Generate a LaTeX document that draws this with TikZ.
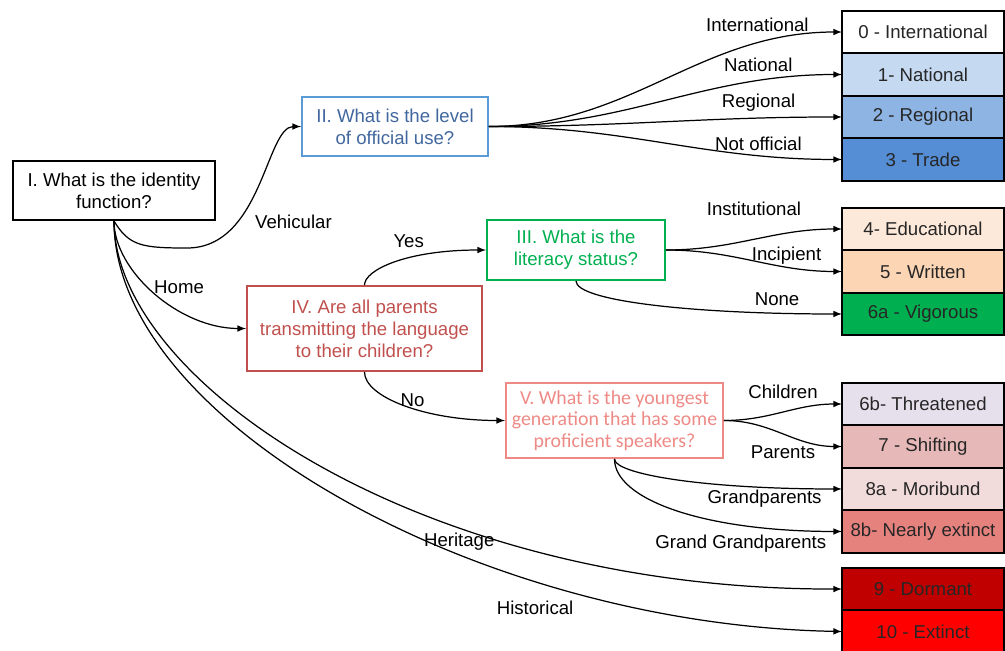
\documentclass[tikz,border=0pt]{standalone}
\usepackage{fontspec}
\setmainfont{Liberation Sans}
\newfontfamily\qfive{Carlito}
\usepackage{tikz}
\usepackage{xcolor}
\usetikzlibrary{arrows, positioning}

\definecolor{qblue}{HTML}{5B9BD5}
\definecolor{qbluetext}{HTML}{41679E}
\definecolor{qgreen}{HTML}{00B050}
\definecolor{qred}{HTML}{C0504D}
\definecolor{qpink}{HTML}{EE8A86}
\definecolor{lv1}{HTML}{C5D9F1}
\definecolor{lv2}{HTML}{8DB4E2}
\definecolor{lv3}{HTML}{558ED5}
\definecolor{lv4}{HTML}{FDE9D9}
\definecolor{lv5}{HTML}{FCD5B5}
\definecolor{lv6a}{HTML}{00B050}
\definecolor{lv6b}{HTML}{E6E0EC}
\definecolor{lv7}{HTML}{E6B9B8}
\definecolor{lv8a}{HTML}{F2DCDB}
\definecolor{lv8b}{HTML}{E6827E}
\definecolor{lv9}{HTML}{C00000}
\definecolor{lv10}{HTML}{FF0000}

\begin{document}
\begin{tikzpicture}[x=0.02cm, y=0.02cm, >=latex,
    font=\fontsize{10.6}{12.5}\selectfont,
    question/.style={draw, rectangle, line width=1.1pt, align=center, inner sep=2pt},
    level/.style={draw, rectangle, line width=1.1pt, outer sep=0pt, minimum width=3.24cm, minimum height=0.85cm, inner sep=0pt, text=black!85},
    link/.style={->, line width=0.7pt},
    fanlabel/.style={pos=0.85, above, xshift=-0.5cm}]
    \useasboundingbox (0,0) rectangle (1005,-650);

    % Questions
    \node[question, minimum width=4.04cm, minimum height=1.18cm] (q1) at (114,-190.5) {I. What is the identity\\function?};
    \node[question, draw=qblue, text=qbluetext, minimum width=3.72cm, minimum height=1.18cm] (q2) at (395,-126.5) {II. What is the level\\of official use?};
    \node[question, draw=qgreen, text=qgreen, minimum width=3.56cm, minimum height=1.2cm] (q3) at (576,-250) {III. What is the\\literacy status?};
    \node[question, draw=qred, text=qred, minimum width=4.7cm, minimum height=1.7cm] (q4) at (364.5,-328.5) {IV. Are all parents\\transmitting the language\\to their children?};
    \node[question, draw=qpink, text=qpink, minimum width=4.34cm, minimum height=1.5cm, font=\qfive\fontsize{11.3}{12.2}\selectfont] (q5) at (614.5,-420.5) {V. What is the youngest\\generation that has some\\proficient speakers?};

    % Levels
    \node[level, fill=white] (l0) at (923,-32) {0 - International};
    \node[level, fill=lv1, below=0pt of l0] (l1) {1- National};
    \node[level, fill=lv2, below=0pt of l1] (l2) {2 - Regional};
    \node[level, fill=lv3, below=0pt of l2] (l3) {3 - Trade};
    \node[level, fill=lv4] (l4) at (923,-229) {4- Educational};
    \node[level, fill=lv5, below=0pt of l4] (l5) {5 - Written};
    \node[level, fill=lv6a, below=0pt of l5] (l6a) {6a - Vigorous};
    \node[level, fill=lv6b] (l6b) at (923,-404) {6b- Threatened};
    \node[level, fill=lv7, below=0pt of l6b] (l7) {7 - Shifting};
    \node[level, fill=lv8a, below=0pt of l7] (l8a) {8a - Moribund};
    \node[level, fill=lv8b, below=0pt of l8a] (l8b) {8b- Nearly extinct};
    \node[level, fill=lv9] (l9) at (923,-589) {9 - Dormant};
    \node[level, fill=lv10, below=0pt of l9] (l10) {10 - Extinct};

    % Arrows
    \coordinate (dip) at (187,-248);
    \draw[link] (q1.south) .. controls +(15,-25) and +(-45,0) .. (dip)
        .. controls +(75,0) and +(-35,0) .. node[pos=0.3, right=6pt] {Vehicular} (q2.west);
    \draw[link] (q1.south) .. controls +(0,-50) and +(-67,0) .. node[pos=0.45, right] {Home} (q4.west);
    \draw[link] (q1.south) .. controls +(0,-160) and +(-422,-1) .. node[pos=0.66, yshift=-8pt] {Heritage} (l9.west);
    \draw[link] (q1.south) .. controls +(0,-200) and +(-362,6.5) .. node[pos=0.71, below=8pt] {Historical} (l10.west);

    \draw[link] (q2.east) to[out=0, in=180] node[fanlabel] {International} (l0.west);
    \draw[link] (q2.east) to[out=0, in=180] node[fanlabel] {National} (l1.west);
    \draw[link] (q2.east) to[out=0, in=180] node[fanlabel] {Regional} (l2.west);
    \draw[link] (q2.east) to[out=0, in=180] node[fanlabel] {Not official} (l3.west);

    \draw[link] (q4.north) .. controls +(0,15) and +(-80,0) .. node[pos=0.6, above=2pt] {Yes} (q3.west);
    \draw[link] (q4.south) .. controls +(0,-25) and +(-80,0) .. node[pos=0.55, above=-3pt] {No} (q5.west);

    \draw[link] (q3.east) to[out=0, in=180] node[pos=0.5, above=10pt] {Institutional} (l4.west);
    \draw[link] (q3.east) to[out=0, in=180] node[pos=0.7, above=-2pt] {Incipient} (l5.west);
    \draw[link] (q3.south) .. controls +(0,-20) and +(-150,0) .. node[pos=0.85, above=0.5pt] {None} (l6a.west);

    \draw[link] (q5.east) to[out=0, in=180] node[pos=0.5, above=4pt] {Children} (l6b.west);
    \draw[link] (q5.east) to[out=0, in=180] node[pos=0.5, below=3pt] {Parents} (l7.west);
    \draw[link] (q5.south) .. controls +(0,-15) and +(-140,0) .. node[pos=0.8, below=-2pt] {Grandparents} (l8a.west);
    \draw[link] (q5.south) .. controls +(0,-40) and +(-140,0) .. node[pos=0.73, below=2pt] {Grand Grandparents} (l8b.west);
\end{tikzpicture}
\end{document}
